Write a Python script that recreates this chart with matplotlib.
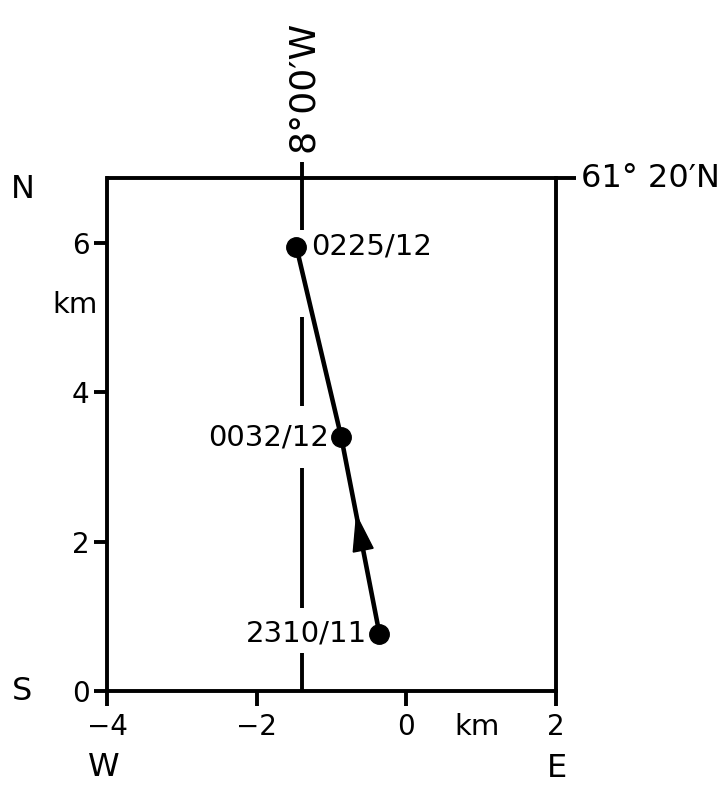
import matplotlib
matplotlib.use("Agg")
import matplotlib.pyplot as plt
import numpy as np

# Data
times = ["2310/11", "0032/12", "0225/12"]
x_km = [-0.36, -0.87, -1.47]
y_km = [0.77, 3.40, 5.95]
xticks = [-4, -2, 0, 2]
xticklabels = ["\u22124", "\u22122", "0", "2"]
yticks = [0, 2, 4, 6]
meridian_x = -1.4
meridian_segments = [(6.18, 7.09), (3.82, 5.01), (1.11, 2.99), (0.0, 0.51)]

plt.rcParams['font.family'] = ['DejaVu Sans']
fig = plt.figure(figsize=(7.26, 7.86), dpi=100)
ax = fig.add_axes([107/726, 1 - 691/786, (556-107)/726, (691-178)/786])
ax.set_xlim(-4, 2)
ax.set_ylim(0, 6.87)

LW = 2.8
for s in ax.spines.values():
    s.set_linewidth(LW)
ax.spines['top'].set_visible(False)
# top line extending to the right
ax.plot([-4.02, 2.27], [6.87, 6.87], color='black', lw=LW, clip_on=False, solid_capstyle='butt')

ax.set_xticks(xticks)
ax.set_xticklabels(xticklabels, fontsize=20)
ax.set_yticks(yticks)
ax.set_yticklabels([str(v) for v in yticks], fontsize=20)
ax.tick_params(axis='x', direction='out', length=11, width=LW, pad=5)
ax.tick_params(axis='y', direction='out', length=9.5, width=LW, pad=3)

# meridian line (broken)
for y0, y1 in meridian_segments:
    ax.plot([meridian_x, meridian_x], [y0, y1], color='black', lw=LW, clip_on=False,
            solid_capstyle='butt')

# trajectory
ax.plot(x_km, y_km, color='black', lw=3.3, zorder=3)
ax.plot(x_km, y_km, 'o', color='black', markersize=14, zorder=4)

# arrow on first segment
f_tip, f_base = 0.60, 0.42
tx = x_km[0] + f_tip * (x_km[1] - x_km[0])
ty = y_km[0] + f_tip * (y_km[1] - y_km[0])
bx = x_km[0] + f_base * (x_km[1] - x_km[0])
by = y_km[0] + f_base * (y_km[1] - y_km[0])
ax.arrow(bx, by, tx - bx, ty - by, width=0.0, head_width=0.27, head_length=0.47,
         length_includes_head=True, color='black', zorder=5)

# point labels
ax.text(x_km[0] - 0.17, y_km[0], times[0], fontsize=21, ha='right', va='center')
ax.text(x_km[1] - 0.17, y_km[1], times[1], fontsize=21, ha='right', va='center')
ax.text(x_km[2] + 0.2, y_km[2], times[2], fontsize=21, ha='left', va='center')

# axis annotations
ax.text(-4.12, 5.17, "km", fontsize=21, ha='right', va='center', clip_on=False)
ax.text(0.95, -0.48, "km", fontsize=21, ha='center', va='center', clip_on=False)
ax.text(-5.12, 6.72, "N", fontsize=23, ha='center', va='center', clip_on=False)
ax.text(-5.14, -0.01, "S", fontsize=23, ha='center', va='center', clip_on=False)
ax.text(-4.05, -1.02, "W", fontsize=23, ha='center', va='center', clip_on=False)
ax.text(2.02, -1.04, "E", fontsize=23, ha='center', va='center', clip_on=False)
ax.text(2.33, 6.87, "61\u00b0 20\u2032N", fontsize=23, ha='left', va='center', clip_on=False)
ax.text(meridian_x + 0.02, 7.22, "8\u00b000\u2032W", fontsize=26, ha='center', va='bottom',
        rotation=90, clip_on=False)

fig.savefig("out.png", dpi=100)
